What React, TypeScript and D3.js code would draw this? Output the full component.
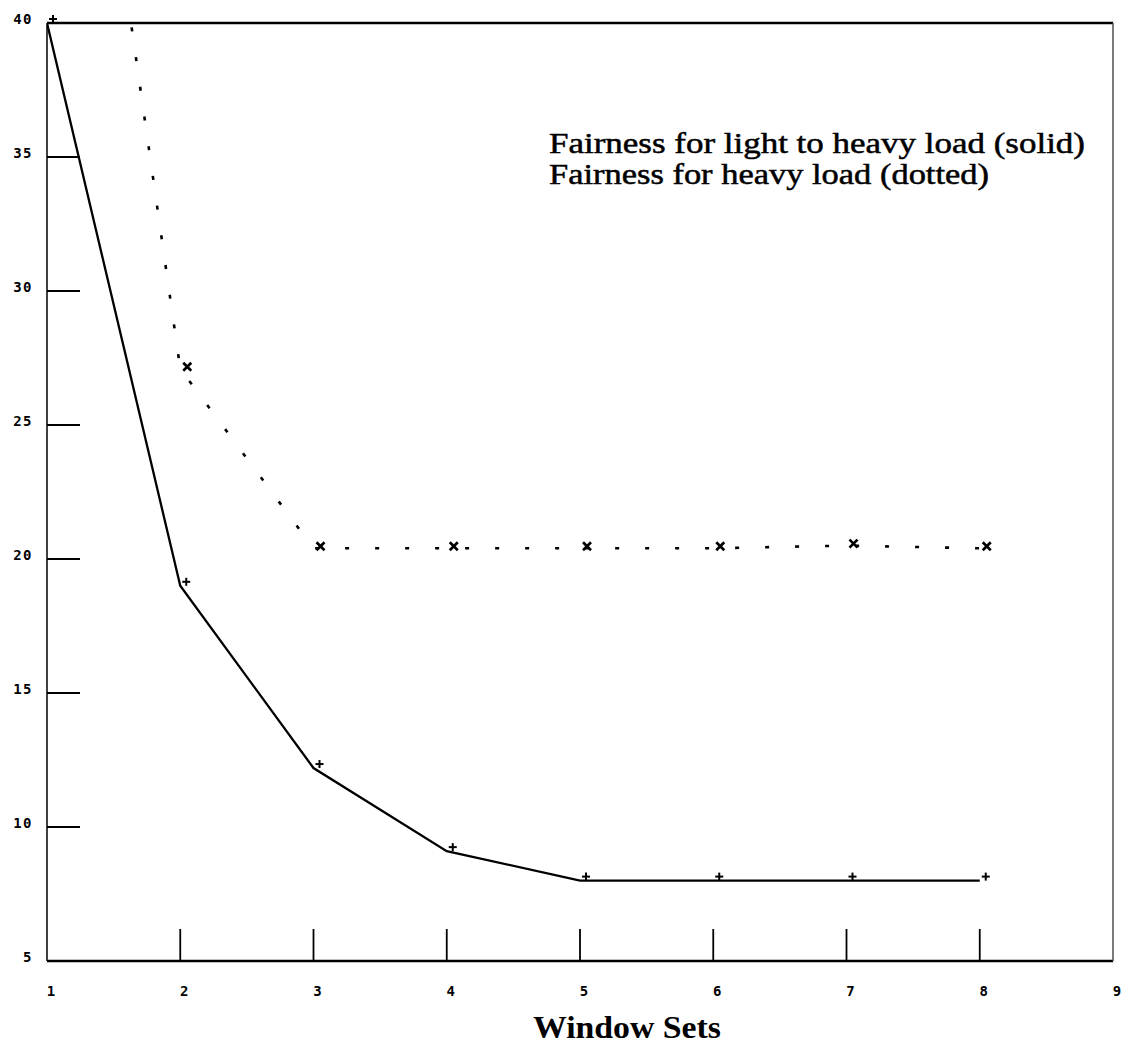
import React from "react";
import * as d3 from "d3";

const windowSets = [1, 2, 3, 4, 5, 6, 7, 8];
const lightToHeavy = [40, 19, 12.2, 9.1, 8, 8, 8, 8];
const heavyLoad = [62, 27.1, 20.4, 20.4, 20.4, 20.4, 20.5, 20.4];
const xTicks = [1, 2, 3, 4, 5, 6, 7, 8, 9];
const yTicks = [5, 10, 15, 20, 25, 30, 35, 40];
const legendLines = [
  "Fairness for light to heavy load (solid)",
  "Fairness for heavy load (dotted)",
];
const legendWidths = [536, 440];
const xTitle = "Window Sets";

const W = 1133;
const H = 1063;
const left = 47;
const right = 1113;
const top = 23;
const bottom = 961;

export default function App() {
  const x = d3.scaleLinear().domain([1, 9]).range([left, right]);
  const y = d3.scaleLinear().domain([5, 40]).range([bottom, top]);
  const line = d3
    .line<number>()
    .x((_, i) => x(windowSets[i]))
    .y((d) => y(d));
  const solidPath = line(lightToHeavy) || "";
  const dottedPath = line(heavyLoad) || "";
  const tickFont = "'DejaVu Sans Mono', monospace";

  return (
    <svg
      width={W}
      height={H}
      viewBox={`0 0 ${W} ${H}`}
      style={{ position: "absolute", left: 0, top: 0, background: "#fff" }}
    >
      <defs>
        <clipPath id="plotClip">
          <rect x={left} y={top} width={right - left} height={bottom - top} />
        </clipPath>
      </defs>
      {/* frame */}
      <line x1={left} y1={top} x2={right} y2={top} stroke="#000" strokeWidth={2.5} />
      <line x1={left} y1={bottom} x2={right} y2={bottom} stroke="#000" strokeWidth={2.5} />
      <line x1={left} y1={top} x2={left} y2={bottom} stroke="#111" strokeWidth={1.6} />
      <line x1={right} y1={top} x2={right} y2={bottom} stroke="#444" strokeWidth={1.4} />

      {/* y ticks */}
      {yTicks.map((t) => (
        <g key={"y" + t}>
          {t !== 5 && t !== 40 && (
            <line x1={left} x2={left + 33} y1={y(t)} y2={y(t)} stroke="#000" strokeWidth={2} />
          )}
          <text
            x={33}
            y={y(t) + 1}
            textAnchor="end"
            fontFamily={tickFont}
            fontWeight="bold"
            fontSize={14}
            letterSpacing={1.5}
            fill="#000"
          >
            {t}
          </text>
        </g>
      ))}

      {/* x ticks */}
      {xTicks.map((t) => (
        <g key={"x" + t}>
          {t !== 1 && t !== 9 && (
            <line x1={x(t)} x2={x(t)} y1={bottom} y2={bottom - 32} stroke="#000" strokeWidth={1.8} />
          )}
          <text
            x={x(t) + 4}
            y={996}
            textAnchor="middle"
            fontFamily={tickFont}
            fontWeight="bold"
            fontSize={14}
            fill="#000"
          >
            {t}
          </text>
        </g>
      ))}

      {/* series */}
      <g clipPath="url(#plotClip)">
        <path d={solidPath} fill="none" stroke="#000" strokeWidth={2.3} />
        <path
          d={dottedPath}
          fill="none"
          stroke="#000"
          strokeWidth={2.6}
          strokeDasharray="4 26"
        />
      </g>

      {/* markers */}
      {lightToHeavy.map((v, i) => {
        const cx = x(windowSets[i]) + 6;
        const cy = y(v) - 4;
        return (
          <g key={"p" + i} stroke="#000" strokeWidth={2}>
            <line x1={cx - 4} x2={cx + 4} y1={cy} y2={cy} />
            <line x1={cx} x2={cx} y1={cy - 4} y2={cy + 4} />
          </g>
        );
      })}
      {heavyLoad.map((v, i) => {
        if (v > 40) return null;
        const cx = x(windowSets[i]) + 7;
        const cy = y(v) - 2;
        return (
          <g key={"x" + i} stroke="#000" strokeWidth={2.6}>
            <line x1={cx - 4} x2={cx + 4} y1={cy - 4} y2={cy + 4} />
            <line x1={cx - 4} x2={cx + 4} y1={cy + 4} y2={cy - 4} />
          </g>
        );
      })}

      {/* legend */}
      {legendLines.map((s, i) => (
        <text
          key={"l" + i}
          x={549}
          y={153 + i * 31}
          fontFamily="'Liberation Serif', serif"
          fontSize={29}
          textLength={legendWidths[i]}
          lengthAdjust="spacingAndGlyphs"
          stroke="#000"
          strokeWidth={0.5}
          fill="#000"
        >
          {s}
        </text>
      ))}

      <text
        x={627}
        y={1038}
        textAnchor="middle"
        fontFamily="'Liberation Serif', serif"
        fontWeight="bold"
        fontSize={32}
        textLength={188}
        lengthAdjust="spacingAndGlyphs"
        fill="#000"
      >
        {xTitle}
      </text>
    </svg>
  );
}
